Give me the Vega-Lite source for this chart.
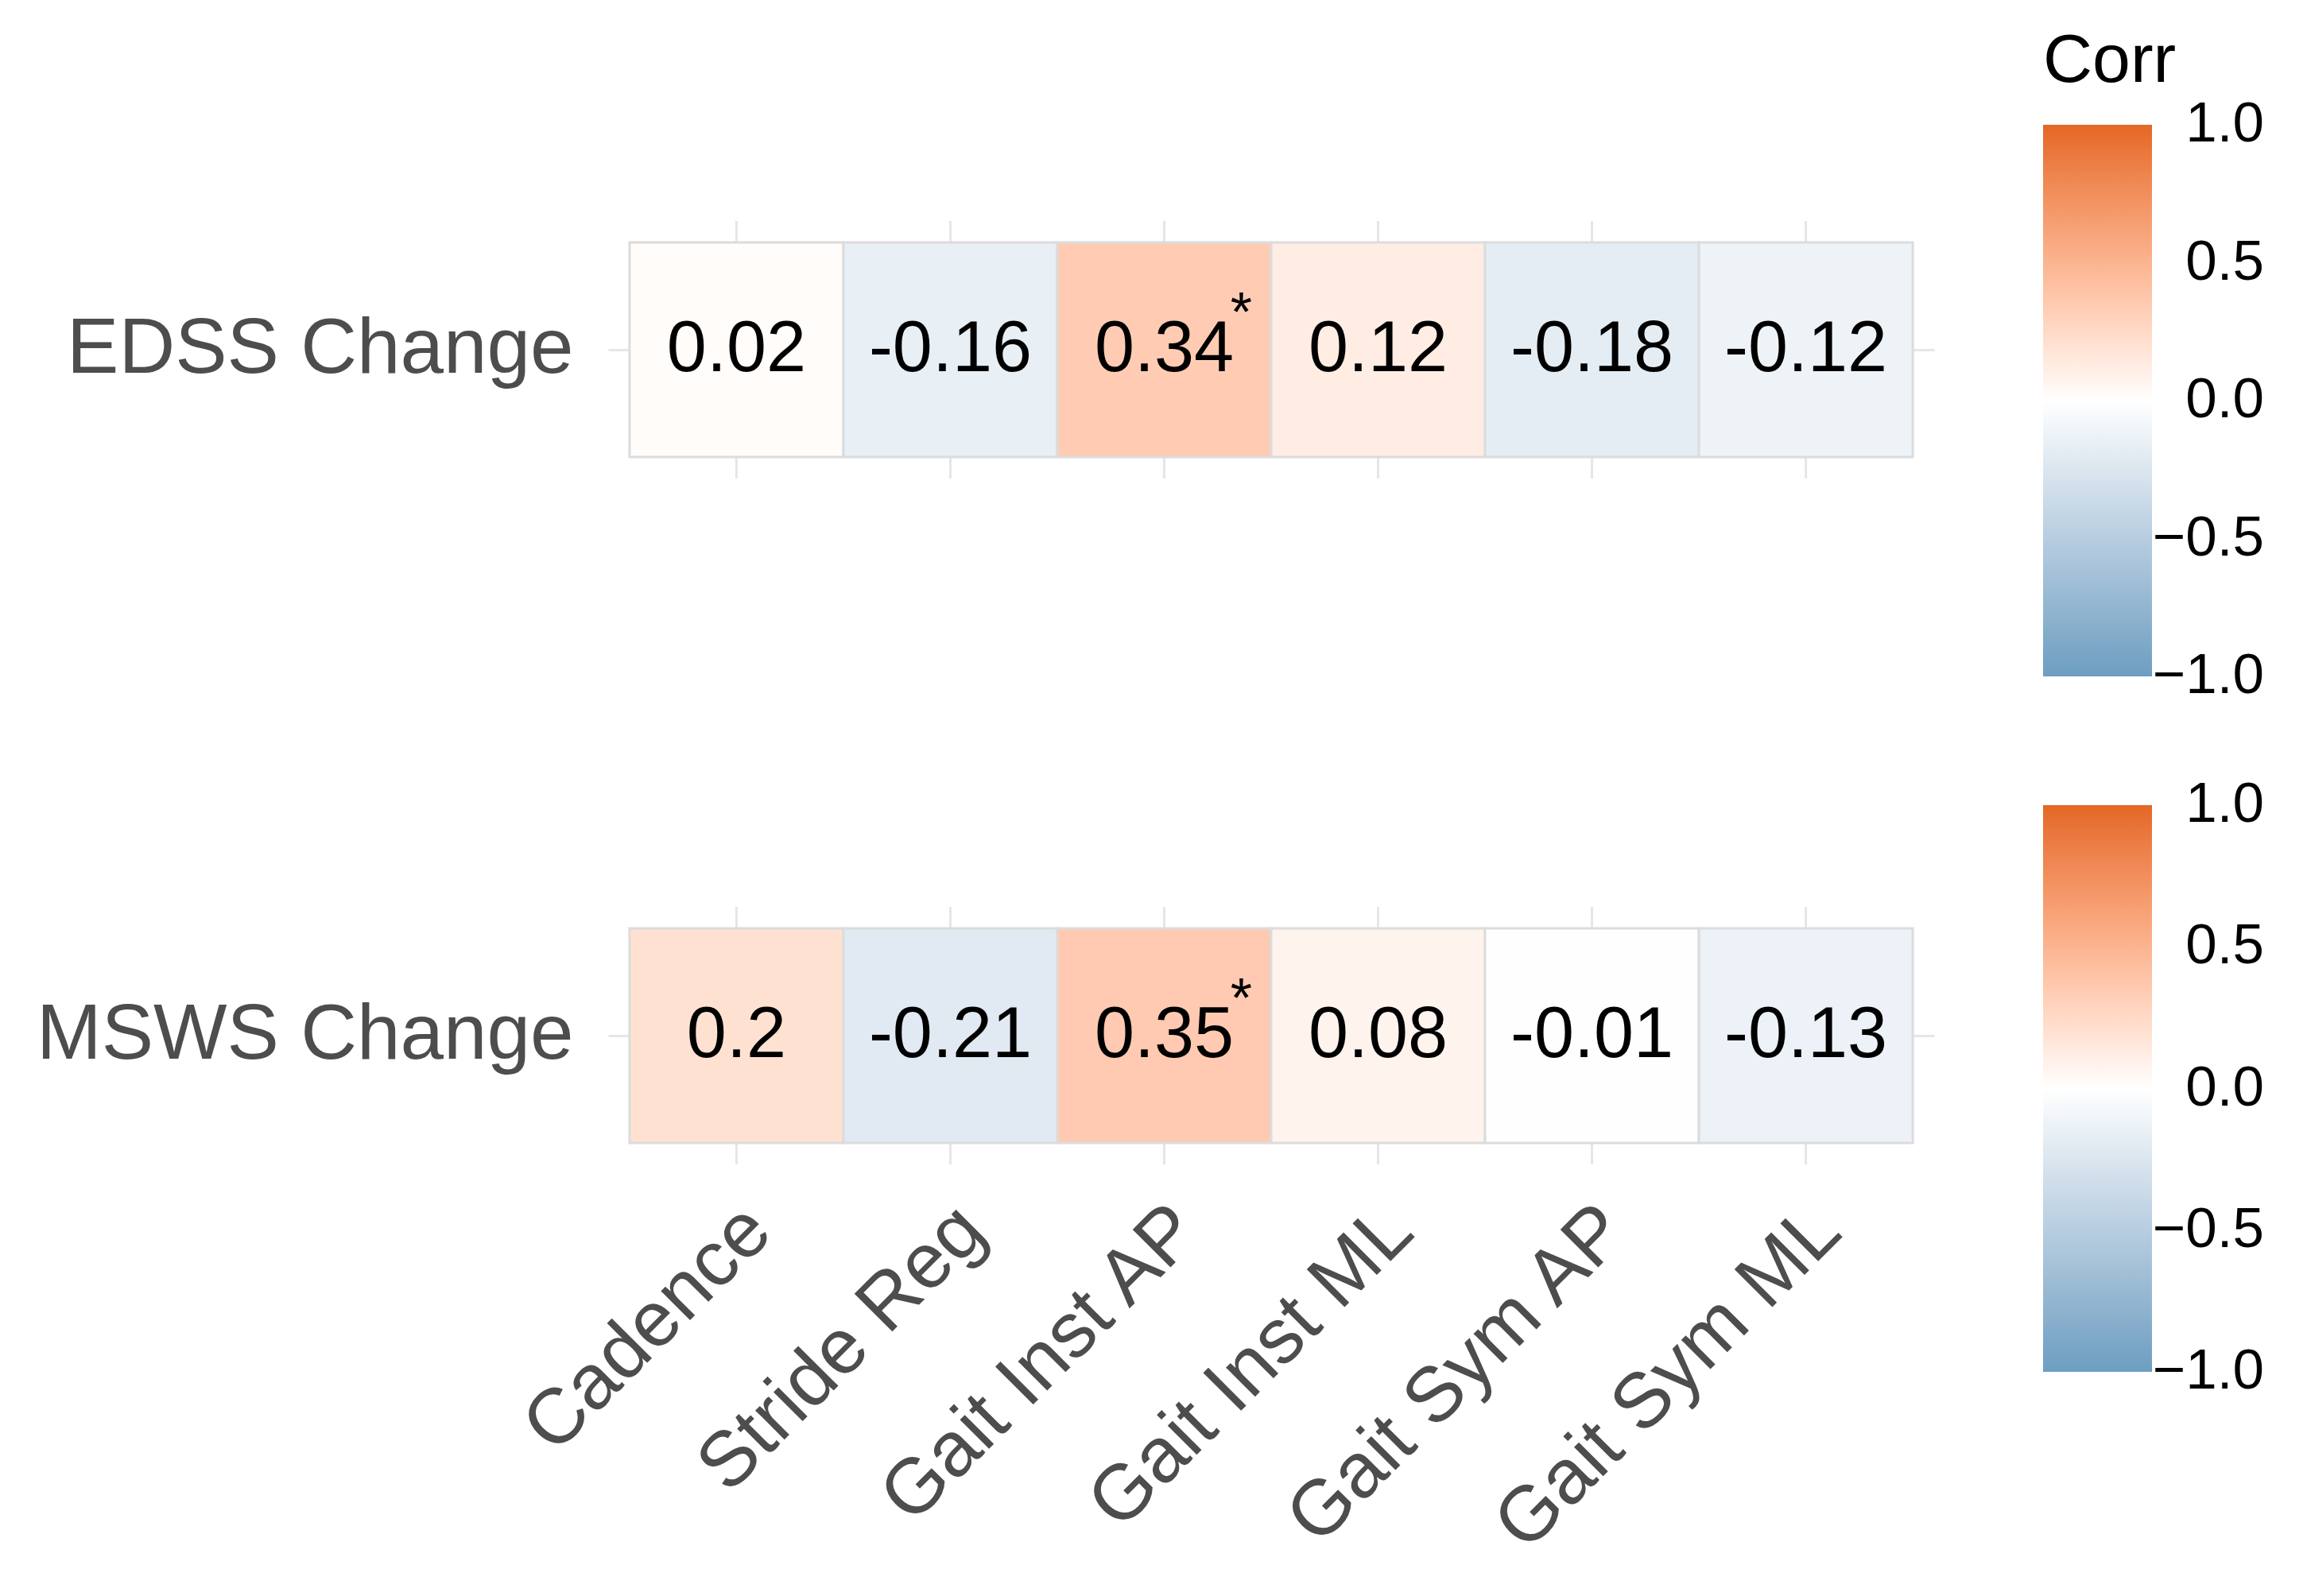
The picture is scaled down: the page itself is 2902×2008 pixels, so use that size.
{
  "$schema": "https://vega.github.io/schema/vega-lite/v6.json",
  "width": 1668,
  "height": 1430,
  "padding": {"left": 45, "top": 35, "right": 5, "bottom": 5},
  "background": "white",
  "config": {
    "font": "Liberation Sans",
    "view": {"stroke": null},
    "legend": {
      "gradientLength": 694,
      "gradientThickness": 137,
      "gradientStrokeWidth": 0,
      "labelFontSize": 71,
      "labelColor": "#000000",
      "labelLimit": 0,
      "titleFontSize": 86,
      "titleFontWeight": "normal",
      "titleColor": "#000000",
      "offset": 137,
      "padding": 0
    }
  },
  "datasets": {
    "cells": [
      {"row": "EDSS Change", "var": "Cadence", "corr": 0.02, "sig": ""},
      {"row": "EDSS Change", "var": "Stride Reg", "corr": -0.16, "sig": ""},
      {"row": "EDSS Change", "var": "Gait Inst AP", "corr": 0.34, "sig": "*"},
      {"row": "EDSS Change", "var": "Gait Inst ML", "corr": 0.12, "sig": ""},
      {"row": "EDSS Change", "var": "Gait Sym AP", "corr": -0.18, "sig": ""},
      {"row": "EDSS Change", "var": "Gait Sym ML", "corr": -0.12, "sig": ""},
      {"row": "MSWS Change", "var": "Cadence", "corr": 0.2, "sig": ""},
      {"row": "MSWS Change", "var": "Stride Reg", "corr": -0.21, "sig": ""},
      {"row": "MSWS Change", "var": "Gait Inst AP", "corr": 0.35, "sig": "*"},
      {"row": "MSWS Change", "var": "Gait Inst ML", "corr": 0.08, "sig": ""},
      {"row": "MSWS Change", "var": "Gait Sym AP", "corr": -0.01, "sig": ""},
      {"row": "MSWS Change", "var": "Gait Sym ML", "corr": -0.13, "sig": ""}
    ]
  },
  "data": {"name": "cells"},
  "encoding": {
    "x": {
      "field": "var",
      "type": "nominal",
      "sort": ["Cadence", "Stride Reg", "Gait Inst AP", "Gait Inst ML", "Gait Sym AP", "Gait Sym ML"],
      "scale": {"paddingInner": 0, "paddingOuter": 0.1},
      "axis": {
        "title": null,
        "labelAngle": -45,
        "labelAlign": "right",
        "labelBaseline": "top",
        "labelFontSize": 98,
        "labelColor": "#4d4d4d",
        "labelPadding": 34,
        "labelOffset": -6,
        "labelLimit": 0,
        "domain": false,
        "ticks": false,
        "grid": false
      }
    },
    "y": {
      "field": "row",
      "type": "nominal",
      "sort": ["EDSS Change", "MSWS Change"],
      "scale": {"paddingInner": 0.68714, "paddingOuter": 0.17208, "align": 0.90909},
      "axis": {
        "title": null,
        "labelFontSize": 98,
        "labelColor": "#4d4d4d",
        "labelPadding": 44,
        "labelLimit": 0,
        "domain": false,
        "ticks": false,
        "grid": true,
        "gridColor": "#e6e6e6",
        "gridWidth": 3
      }
    }
  },
  "layer": [
    {
      "mark": {"type": "rule", "color": "#e6e6e6", "strokeWidth": 3},
      "encoding": {
        "y": {"field": "row", "type": "nominal", "sort": ["EDSS Change", "MSWS Change"], "bandPosition": -0.1},
        "y2": {"field": "row", "bandPosition": 1.1}
      }
    },
    {
      "transform": [{"filter": "datum.row === 'EDSS Change'"}],
      "mark": {"type": "rect", "stroke": "#dcdcdc", "strokeWidth": 3},
      "encoding": {
        "fill": {
          "field": "corr",
          "type": "quantitative",
          "scale": {"domain": [-1, 0, 1], "range": ["#6D9EC1", "#FFFFFF", "#E46726"], "interpolate": "lab"},
          "legend": {
            "title": "Corr",
            "titlePadding": 36,
            "values": [1, 0.5, 0, -0.5, -1],
            "format": ".1f",
            "labelOffset": 141,
            "encode": {"labels": {"update": {"align": {"value": "right"}, "baseline": {"value": "middle"}}}}
          }
        }
      }
    },
    {
      "transform": [{"filter": "datum.row === 'MSWS Change'"}],
      "mark": {"type": "rect", "stroke": "#dcdcdc", "strokeWidth": 3},
      "encoding": {
        "fill": {
          "field": "corr",
          "type": "quantitative",
          "scale": {"domain": [-1, 0, 1], "range": ["#6D9EC1", "#FFFFFF", "#E46726"], "interpolate": "lab"},
          "legend": {
            "title": " ",
            "titlePadding": 33,
            "gradientLength": 713,
            "values": [1, 0.5, 0, -0.5, -1],
            "format": ".1f",
            "labelOffset": 141,
            "encode": {"labels": {"update": {"align": {"value": "right"}, "baseline": {"value": "middle"}}}}
          }
        }
      }
    },
    {
      "mark": {"type": "text", "fontSize": 90, "color": "#000000"},
      "encoding": {"text": {"field": "corr", "type": "nominal"}}
    },
    {
      "mark": {"type": "text", "fontSize": 70, "color": "#000000", "dx": 97, "dy": -44},
      "encoding": {"text": {"field": "sig", "type": "nominal"}}
    }
  ],
  "resolve": {"scale": {"fill": "independent"}}
}
